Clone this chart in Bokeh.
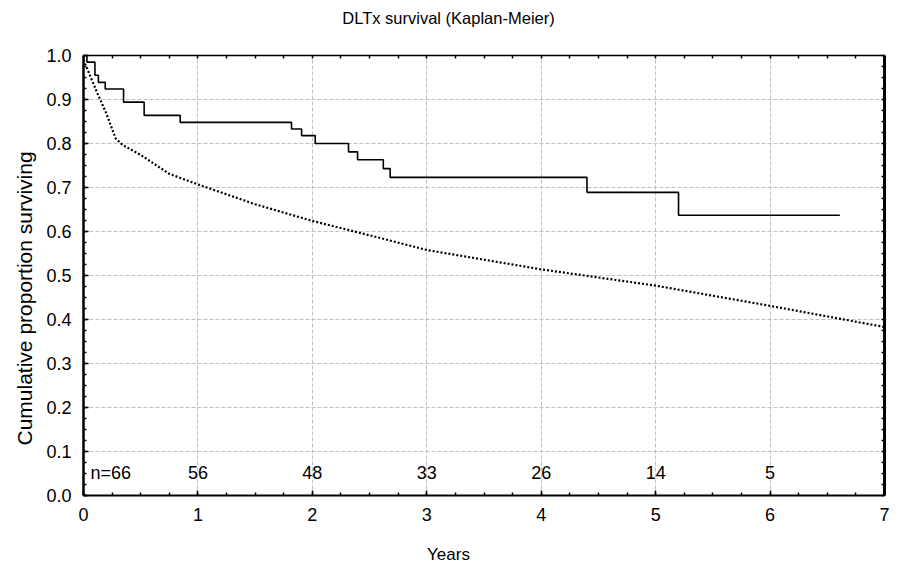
from bokeh.plotting import figure
from bokeh.layouts import column
from bokeh.models import LinearAxis, Range1d, FixedTicker, Title, PrintfTickFormatter
from bokeh.core.properties import value
from bokeh.embed import file_html
from bokeh.resources import INLINE

# ---------------- data ----------------
km_years = [0.0, 0.03, 0.10, 0.13, 0.19, 0.35, 0.53, 0.845, 1.818, 1.906, 2.025,
            2.316, 2.395, 2.62, 2.68, 4.40, 5.20, 6.61]
km_surv = [1.0, 0.985, 0.955, 0.939, 0.924, 0.894, 0.864, 0.848, 0.833, 0.818, 0.800,
           0.781, 0.763, 0.743, 0.723, 0.689, 0.637, 0.637]

exp_years = [0.0, 0.12, 0.20, 0.28, 0.34, 0.50, 0.75, 1.0, 1.5, 2.0, 2.4, 3.0,
             4.0, 5.0, 6.0, 7.0]
exp_surv = [0.99, 0.915, 0.868, 0.812, 0.797, 0.774, 0.731, 0.707, 0.662, 0.624,
            0.598, 0.558, 0.514, 0.477, 0.431, 0.383]

risk_years = [0, 1, 2, 3, 4, 5, 6]
risk_n = [66, 56, 48, 33, 26, 14, 5]

x_ticks = [0, 1, 2, 3, 4, 5, 6, 7]
y_ticks = [0.0, 0.1, 0.2, 0.3, 0.4, 0.5, 0.6, 0.7, 0.8, 0.9, 1.0]

title_text = "DLTx survival (Kaplan-Meier)"
x_label = "Years"
y_label = "Cumulative proportion surviving"

# ---------------- style ----------------
FONT = "Liberation Sans"
TICK_FS = "18px"
GRID = "#c0c0c0"
W = 896
TOP_H, MAIN_H, BOT_H = 40, 497, 38

x_minor = [i * 0.25 for i in range(29)]
y_minor = [i * 0.025 for i in range(41)]


def no_frame_align(f):
    try:
        f.frame_align = False
    except Exception:
        pass


def text_strip(h):
    f = figure(width=W, height=h, x_range=Range1d(0, W), y_range=Range1d(0, h),
               output_backend="svg", toolbar_location=None,
               x_axis_location=None, y_axis_location=None,
               min_border=0, min_border_left=0, min_border_right=0,
               min_border_top=0, min_border_bottom=0)
    f.grid.visible = False
    f.outline_line_color = None
    f.background_fill_color = None
    f.border_fill_color = None
    no_frame_align(f)
    return f


# title strip
top = text_strip(TOP_H)
top.text(x=[454], y=[17], text=[title_text], text_align="center",
         text_baseline="middle", text_font=value(FONT), text_font_size="16.5px",
         text_color="black")

# x-axis title strip
bot = text_strip(BOT_H)
bot.text(x=[454], y=[15], text=[x_label], text_align="center",
         text_baseline="middle", text_font=value(FONT), text_font_size="17px",
         text_color="black")

# main plot
p = figure(width=W, height=MAIN_H,
           x_range=Range1d(0, 7), y_range=Range1d(0, 1),
           output_backend="svg", toolbar_location=None,
           min_border_left=89, min_border_right=6,
           min_border_top=21, min_border_bottom=36,
           background_fill_color="white", border_fill_color=None)
p.outline_line_color = None
no_frame_align(p)

xt = FixedTicker(ticks=x_ticks, minor_ticks=x_minor)
yt = FixedTicker(ticks=y_ticks, minor_ticks=y_minor)


def style_axis(ax, lw):
    ax.axis_line_width = lw
    ax.axis_line_color = "black"
    ax.major_tick_in = 5
    ax.major_tick_out = 0
    ax.minor_tick_in = 3
    ax.minor_tick_out = 0
    ax.major_tick_line_width = 1.5
    ax.minor_tick_line_width = 1.5
    ax.major_tick_line_color = "black"
    ax.minor_tick_line_color = "black"
    ax.major_label_text_font = FONT
    ax.major_label_text_font_size = TICK_FS
    ax.major_label_text_color = "black"


p.xaxis.ticker = xt
p.yaxis.ticker = yt
p.yaxis.formatter = PrintfTickFormatter(format="%.1f")
p.xaxis.formatter = PrintfTickFormatter(format="%d")
style_axis(p.xaxis[0], 2)
style_axis(p.yaxis[0], 2.5)
p.xaxis.major_label_standoff = 12
p.yaxis.major_label_standoff = 12

# top / right frame axes: minor ticks only (no labels)
top_ax = LinearAxis(ticker=FixedTicker(ticks=[], minor_ticks=x_minor))
style_axis(top_ax, 1.5)
top_ax.major_label_standoff = 0
p.add_layout(top_ax, "above")
right_ax = LinearAxis(ticker=FixedTicker(ticks=[], minor_ticks=y_minor))
style_axis(right_ax, 3)
right_ax.major_label_standoff = 0
p.add_layout(right_ax, "right")

p.xgrid.ticker = xt
p.ygrid.ticker = yt
for g in (p.xgrid[0], p.ygrid[0]):
    g.grid_line_color = GRID
    g.grid_line_dash = "4 2"
    g.grid_line_width = 1

p.add_layout(Title(text=y_label, align="left", offset=50, standoff=16,
                   text_font=FONT, text_font_size="21px",
                   text_font_style="normal", text_color="black"), "left")

# curves
p.line(exp_years, exp_surv, line_color="black", line_width=2.2, line_dash="2 2")
p.step(km_years, km_surv, mode="after", line_color="black", line_width=1.6)

# numbers at risk
p.text(x=risk_years[:1], y=[0.052], text=["n=%d" % risk_n[0]], text_align="left",
       text_baseline="middle", x_offset=7, text_font=value(FONT),
       text_font_size=TICK_FS, text_color="black")
p.text(x=risk_years[1:], y=[0.052] * (len(risk_years) - 1),
       text=[str(n) for n in risk_n[1:]], text_align="center",
       text_baseline="middle", text_font=value(FONT),
       text_font_size=TICK_FS, text_color="black")

layout = column(top, p, bot, spacing=0)
# thin page frame (left / top edges only, like the cropped original window)
layout.styles = {"border-left": "1px solid black", "border-top": "1px solid black",
                 "margin-left": "-7px", "margin-top": "-7px",
                 "background-color": "white"}

open("out.html", "w").write(file_html(layout, INLINE))
